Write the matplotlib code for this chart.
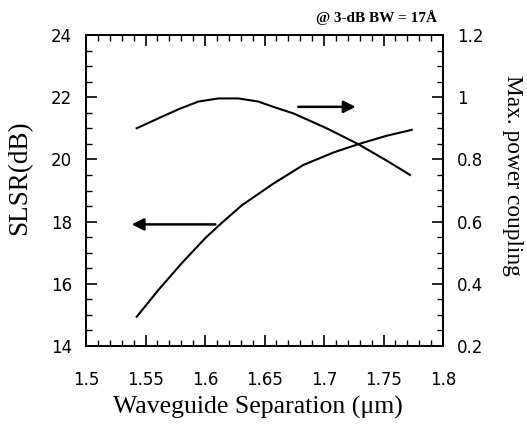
import matplotlib
matplotlib.use("Agg")
import matplotlib.pyplot as plt
from matplotlib.ticker import MultipleLocator

# SLSR (left axis)
sep_slsr = [1.5426, 1.5608, 1.5804, 1.6000, 1.6112, 1.6308, 1.6574,
            1.6826, 1.7078, 1.7288, 1.7527, 1.7737]
slsr_db = [14.94, 15.80, 16.66, 17.46, 17.86, 18.52, 19.22,
           19.82, 20.22, 20.49, 20.76, 20.95]

# max power coupling (right axis)
sep_coup = [1.5426, 1.5608, 1.5776, 1.5944, 1.6112, 1.6280, 1.6448,
            1.6574, 1.6742, 1.7023, 1.7288, 1.7527, 1.7723]
coupling = [0.900, 0.932, 0.961, 0.986, 0.996, 0.996, 0.986,
            0.969, 0.948, 0.900, 0.849, 0.796, 0.750]

x_ticks = [1.5, 1.55, 1.6, 1.65, 1.7, 1.75, 1.8]
x_ticklabels = ["1.5", "1.55", "1.6", "1.65", "1.7", "1.75", "1.8"]
left_ticks = [14, 16, 18, 20, 22, 24]
right_ticks = [0.2, 0.4, 0.6, 0.8, 1.0, 1.2]
right_ticklabels = ["0.2", "0.4", "0.6", "0.8", "1", "1.2"]

SERIF = "Liberation Serif"
SANS = "DejaVu Sans"
W, H = 527, 424


def style_ticks(a):
    a.tick_params(which="major", direction="in", length=8, width=1.2)
    a.tick_params(which="minor", direction="in", length=4, width=1.0)


fig = plt.figure(figsize=(W / 100, H / 100), dpi=100)
ax = fig.add_axes([86 / W, 1 - 346 / H, (443 - 86) / W, (346 - 35) / H])
ax2 = ax.twinx()

ax.plot(sep_slsr, slsr_db, color="black", lw=1.5)
ax2.plot(sep_coup, coupling, color="black", lw=1.5)

ax.set_xlim(1.5, 1.8)
ax.set_ylim(14, 24)
ax2.set_ylim(0.2, 1.2)

ax.set_xticks(x_ticks)
ax.set_xticklabels(x_ticklabels)
ax.xaxis.set_minor_locator(MultipleLocator(0.01))
ax.set_yticks(left_ticks)
ax.yaxis.set_minor_locator(MultipleLocator(0.5))
ax2.set_yticks(right_ticks)
ax2.set_yticklabels(right_ticklabels)
ax2.yaxis.set_minor_locator(MultipleLocator(0.05))

style_ticks(ax)
style_ticks(ax2)
ax.tick_params(axis="x", which="both", top=True)
ax.tick_params(axis="x", pad=18)
ax.tick_params(axis="y", pad=10)
ax2.tick_params(axis="y", pad=10)

for lab in ax.get_xticklabels() + ax.get_yticklabels() + ax2.get_yticklabels():
    lab.set_fontfamily(SANS)
    lab.set_fontsize(12)

for a in (ax, ax2):
    for s in a.spines.values():
        s.set_linewidth(1.3)

# axis titles
fig.text(258 / W, 1 - 407 / H, "Waveguide Separation (\u03bcm)", ha="center", va="center",
         fontfamily=SERIF, fontsize=18.5)
fig.text(20 / W, 1 - 178 / H, "SLSR(dB)", ha="center", va="center", rotation=90,
         fontfamily=SERIF, fontsize=19.5)
fig.text(512 / W, 1 - 175 / H, "Max. power coupling", ha="center", va="center",
         rotation=-90, fontfamily=SERIF, fontsize=16.8)

# arrows pointing to the axis each curve belongs to
arrow = dict(arrowstyle="-|>", color="black", lw=1.8, mutation_scale=18)
ax.annotate("", xy=(1.729, 21.69), xytext=(1.676, 21.69), arrowprops=arrow)
ax.annotate("", xy=(1.536, 17.91), xytext=(1.611, 17.91), arrowprops=arrow)

fig.text(437 / W, 1 - 18 / H, "@ 3-dB BW = 17\u00c5", ha="right", va="center",
         fontfamily=SERIF, fontweight="bold", fontsize=11)

fig.savefig("out.png", dpi=100)
